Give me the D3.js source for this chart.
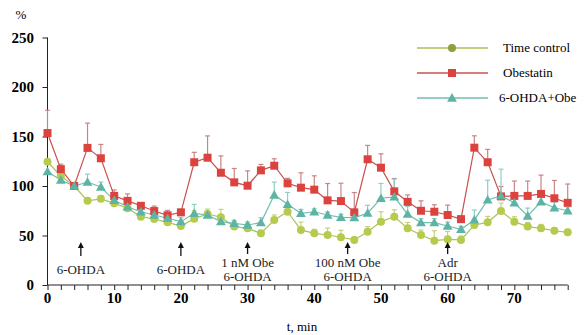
<!DOCTYPE html>
<html><head><meta charset="utf-8">
<script src="https://cdn.jsdelivr.net/npm/d3@7"></script>
<style>
html,body{margin:0;padding:0;background:#fff;}
svg text{font-family:"Liberation Serif","Times New Roman",serif;}
</style></head>
<body><svg id="c" width="586" height="335"></svg>
<script>
const time = [0,2,4,6,8,10,12,14,16,18,20,22,24,26,28,30,32,34,36,38,40,42,44,46,48,50,52,54,56,58,60,62,64,66,68,70,72,74,76,78];
const timeControl = [124.5,110,100,85,87,82.5,77.5,69,66.7,63.3,59.6,67,71.7,68.4,59,57.2,52.2,65.7,74,55.6,52.2,50.5,48.2,45.5,53.9,64,69,57.2,50.5,44.8,46.1,45.5,60.6,63.3,74.7,64,59,57.2,54.8,53.2];
const timeControlErr = [0,3,0,3,3,3,3,3,3,3,3,8,5,8,5,5,3,5,6,8,4,7,7,3,5,10,7,6,5,10,8,4,6,6,8,5,4,4,3,3];
const obestatin = [153.5,117,100,138.5,128,90,85,80,74.7,70.4,73.4,124,128.6,113.4,103.7,100.3,115.8,120.5,102.7,98.3,96.3,85.5,84.8,73.4,127,118.5,94.6,84,75,74,70.7,66.5,138.7,124,89.5,90,90,92,87.6,83];
const obestatinErr = [23,5,0,25,14,6,7,3,5,5,3,10,22,17,14,15,6,7,5,15,14,17,18,20,14,14,13,7,10,7,10,3,12,13,10,15,15,19,18,19];
const ohdaObe = [114.5,106,100,104,99,85.5,79,74,70.7,67.4,64,72.4,70.7,64,62.3,60.6,63,90.9,81.5,72.4,74,70.7,68.4,68,72.5,87.6,89,71.5,63,63,59.6,56.2,65.7,85.9,90,83,69.7,84,78,75];
const ohdaObeErr = [0,3,0,8,5,3,3,3,3,3,4,9,4,4,3,3,5,13,12,4,3,3,3,3,8,15,18,8,4,4,4,3,10,20,27,10,8,8,6,4];
const seriesNames = ["Time control","Obestatin","6-OHDA+Obe"];
const yTicks = [0,50,100,150,200,250];
const xTicks = [0,10,20,30,40,50,60,70];
const annotations = [
  {t:5, lines:["6-OHDA"]},
  {t:20, lines:["6-OHDA"]},
  {t:30, lines:["1 nM Obe","6-OHDA"]},
  {t:45, lines:["100 nM Obe","6-OHDA"]},
  {t:60, lines:["Adr","6-OHDA"]}
];

const series = [
  {name:seriesNames[0], vals:timeControl, err:timeControlErr, line:"#a9c25a", fill:"#b5cb4e", err_c:"#c3d37e", shape:"circle", legendFill:"#8e9f3e"},
  {name:seriesNames[1], vals:obestatin, err:obestatinErr, line:"#c9504e", fill:"#dc433f", err_c:"#c98585", shape:"square", legendFill:"#dc433f"},
  {name:seriesNames[2], vals:ohdaObe, err:ohdaObeErr, line:"#70bfb2", fill:"#5db4a4", err_c:"#8fcfc4", shape:"triangle", legendFill:"#5db4a4"}
];

const svg = d3.select("#c");
const x = d3.scaleLinear().domain([0,78]).range([47.5,567.7]);
const y = d3.scaleLinear().domain([0,250]).range([285,37.5]);

// axes
const xAxis = svg.append("g").attr("transform","translate(0,285)")
  .call(d3.axisBottom(x).tickValues(d3.range(0,79,2)).tickSize(5).tickFormat(""));
xAxis.select(".domain").attr("d",`M${x(0)},0H${x(78)}`);
svg.append("g").selectAll("text").data(xTicks).join("text")
  .attr("x",d=>x(d)).attr("y",303).attr("text-anchor","middle")
  .attr("font-size",15).attr("font-weight","bold").text(d=>d);

const yAxis = svg.append("g").attr("transform",`translate(${x(0)},0)`)
  .call(d3.axisLeft(y).tickValues(yTicks).tickSize(5).tickFormat(""));
yAxis.select(".domain").attr("d",`M0,${y(0)}V${y(250)}`);
svg.append("g").selectAll("text").data(yTicks).join("text")
  .attr("x",34).attr("y",d=>y(d)+5).attr("text-anchor","end")
  .attr("font-size",15).attr("font-weight","bold").text(d=>d);
svg.selectAll(".tick line, .domain").attr("stroke","#222").attr("stroke-width",1);

svg.append("text").attr("x",21).attr("y",19).attr("text-anchor","middle").attr("font-size",13).text("%");
svg.append("text").attr("x",302).attr("y",331).attr("text-anchor","middle").attr("font-size",13).text("t, min");

// error bars
series.forEach(s=>{
  const g = svg.append("g");
  time.forEach((t,i)=>{
    if(s.err[i]<=0) return;
    const yt = y(s.vals[i]+s.err[i]);
    g.append("line").attr("x1",x(t)).attr("x2",x(t)).attr("y1",y(s.vals[i])).attr("y2",yt).attr("stroke",s.err_c).attr("stroke-width",1.2);
    g.append("line").attr("x1",x(t)-2.5).attr("x2",x(t)+2.5).attr("y1",yt).attr("y2",yt).attr("stroke",s.err_c).attr("stroke-width",1.2);
  });
});

function marker(g, shape, cx, cy, fill){
  if(shape==="circle") g.append("circle").attr("cx",cx).attr("cy",cy).attr("r",4).attr("fill",fill);
  else if(shape==="square") g.append("rect").attr("x",cx-4).attr("y",cy-4).attr("width",8).attr("height",8).attr("fill",fill);
  else g.append("path").attr("d",d3.symbol(d3.symbolTriangle,42)()).attr("transform",`translate(${cx},${cy+0.8})`).attr("fill",fill);
}

// lines and markers
const line = d3.line().x((d,i)=>x(time[i])).y(d=>y(d));
series.forEach(s=>{
  svg.append("path").datum(s.vals).attr("d",line).attr("fill","none").attr("stroke",s.line).attr("stroke-width",1.2);
});
series.forEach(s=>{
  const g = svg.append("g");
  s.vals.forEach((v,i)=>marker(g, s.shape, x(time[i]), y(v), s.fill));
});

// legend
const lg = svg.append("g");
series.forEach((s,i)=>{
  const yy = 48 + i*25;
  lg.append("line").attr("x1",417).attr("x2",488).attr("y1",yy).attr("y2",yy).attr("stroke",s.line).attr("stroke-width",1.3);
  marker(lg, s.shape, 452, yy, s.legendFill);
  lg.append("text").attr("x", i===2?499:503).attr("y",yy+4).attr("font-size",13).text(s.name);
});

// annotations
const ag = svg.append("g");
annotations.forEach(a=>{
  const cx = x(a.t);
  const two = a.lines.length===2;
  const top = two?242:242, bot = two?254:256;
  ag.append("line").attr("x1",cx).attr("x2",cx).attr("y1",top+4).attr("y2",bot).attr("stroke","#111").attr("stroke-width",1.3);
  ag.append("path").attr("d",`M${cx},${top} L${cx-3},${top+6} L${cx+3},${top+6} Z`).attr("fill","#111");
  a.lines.forEach((l,j)=>{
    const ty = two ? 267 + j*14 : 274;
    ag.append("text").attr("x",cx).attr("y",ty).attr("text-anchor","middle").attr("font-size",13).attr("fill","#222").text(l);
  });
});
</script></body></html>
